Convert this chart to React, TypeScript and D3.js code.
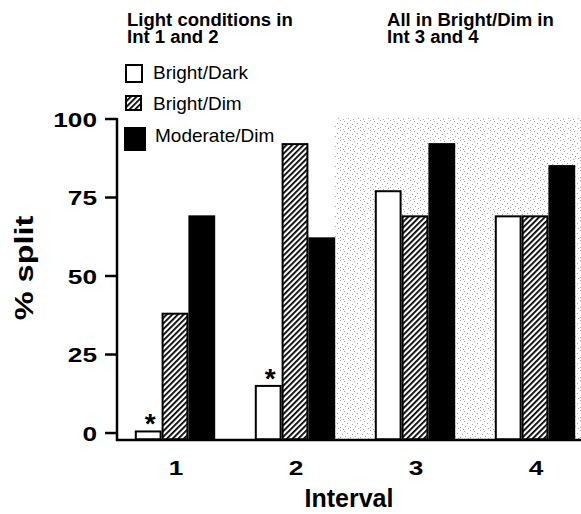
import React from 'react'
import * as d3 from 'd3'

const intervals = ['1', '2', '3', '4']
const conditions = ['Bright/Dark', 'Bright/Dim', 'Moderate/Dim']
const brightDark = [0.5, 15, 77, 69]
const brightDim = [38, 92, 69, 69]
const moderateDim = [69, 62, 92, 85]
const yTicks = [0, 25, 50, 75, 100]
const starred = ['1', '2']

const W = 581
const H = 514
const font = 'Arial, "Liberation Sans", sans-serif'

// text that is a bit wider than the font draws it, as in the scanned figure
function Wide(props: { x: number; y: number; sx?: number; anchor?: string; size: number; bold?: boolean; rotate?: number; children: React.ReactNode }) {
  const { x, y, sx = 1, anchor = 'start', size, bold = true, rotate = 0, children } = props
  return (
    <text
      transform={`translate(${x},${y}) rotate(${rotate}) scale(${sx},1)`}
      textAnchor={anchor}
      fontFamily={font}
      fontWeight={bold ? 'bold' : 'normal'}
      fontSize={size}
      fill="#000"
    >
      {children}
    </text>
  )
}

export default function App() {
  const series = [brightDark, brightDim, moderateDim]
  const y = d3.scaleLinear().domain([-2, 100]).range([439.3, 119])
  const x = d3.scaleBand().domain(intervals).range([115, 595]).paddingInner(0.33).paddingOuter(0.165)
  const xs = d3.scaleBand().domain(conditions).range([0, x.bandwidth()])
  const fills = ['#fff', 'url(#hatch)', '#000']
  const base = y(-2)

  // stipple dots for the shaded area of int 3 and 4
  const dots: [number, number][] = [
    [0, 0], [4, 1], [7, 3], [2, 4], [5, 6], [0, 7], [8, 8], [3, 9],
  ]

  const legendBoxes = [
    { x: 126, y: 65, w: 16, h: 17 },
    { x: 126, y: 96, w: 15, h: 14 },
    { x: 125, y: 128, w: 20, h: 22 },
  ]
  const legendText = [
    { x: 153, y: 79 },
    { x: 153, y: 110 },
    { x: 155, y: 142 },
  ]

  return (
    <svg width={W} height={H} style={{ position: 'absolute', left: 0, top: 0 }}>
      <defs>
        <pattern id="hatch" width="4" height="4" patternUnits="userSpaceOnUse" patternTransform="rotate(45)">
          <rect width="4" height="4" fill="#fff" />
          <rect width="1.8" height="4" fill="#000" />
        </pattern>
        <pattern id="stipple" width="10" height="10" patternUnits="userSpaceOnUse">
          <rect width="10" height="10" fill="#fff" />
          {dots.map(([a, b], i) => (
            <rect key={i} x={a} y={b} width="1" height="1" fill="#a8a8a8" />
          ))}
        </pattern>
      </defs>
      <rect width={W} height={H} fill="#fff" />

      {/* shaded region */}
      <rect x={335} y={118} width={W} height={base - 118} fill="url(#stipple)" />

      {/* titles */}
      <Wide x={127} y={26} size={17.5} sx={1.06}>Light  conditions in</Wide>
      <Wide x={127} y={43} size={17.5} sx={1.06}>Int 1 and 2</Wide>
      <Wide x={387} y={26} size={17.5} sx={1.06}>All in Bright/Dim in</Wide>
      <Wide x={387} y={43} size={17.5} sx={1.06}>Int 3 and 4</Wide>

      {/* legend */}
      {conditions.map((c, i) => (
        <g key={c}>
          <rect
            x={legendBoxes[i].x}
            y={legendBoxes[i].y}
            width={legendBoxes[i].w}
            height={legendBoxes[i].h}
            fill={fills[i]}
            stroke="#000"
            strokeWidth={2}
          />
          <Wide x={legendText[i].x} y={legendText[i].y} size={19} bold={false}>
            {c}
          </Wide>
        </g>
      ))}

      {/* bars */}
      {intervals.map((iv, i) => (
        <g key={iv} transform={`translate(${x(iv)},0)`}>
          {series.map((s, k) => (
            <rect
              key={k}
              x={(xs(conditions[k]) as number) + 1}
              y={y(s[i])}
              width={xs.bandwidth() - 2}
              height={base - y(s[i])}
              fill={fills[k]}
              stroke="#000"
              strokeWidth={2}
            />
          ))}
          {starred.includes(iv) && (
            <Wide
              x={(xs(conditions[0]) as number) + xs.bandwidth() / 2 + 2}
              y={y(brightDark[i]) + 2}
              anchor="middle"
              size={28}
            >
              *
            </Wide>
          )}
        </g>
      ))}

      {/* axes */}
      <line x1={117} x2={117} y1={118} y2={441} stroke="#000" strokeWidth={2.5} />
      <line x1={116} x2={W} y1={440} y2={440} stroke="#000" strokeWidth={2.5} />
      {yTicks.map(t => (
        <g key={t}>
          <line x1={105} x2={117} y1={y(t)} y2={y(t)} stroke="#000" strokeWidth={2.5} />
          <Wide x={97} y={y(t) + 7.5} anchor="end" size={21} sx={1.25}>
            {t}
          </Wide>
        </g>
      ))}
      {intervals.map(iv => (
        <Wide key={iv} x={(x(iv) as number) + x.bandwidth() / 2 + 1} y={475} anchor="middle" size={21} sx={1.25}>
          {iv}
        </Wide>
      ))}
      <Wide x={33} y={268} rotate={-90} anchor="middle" size={25} sx={1.3}>
        % split
      </Wide>
      <Wide x={349} y={507} anchor="middle" size={25}>
        Interval
      </Wide>
    </svg>
  )
}
